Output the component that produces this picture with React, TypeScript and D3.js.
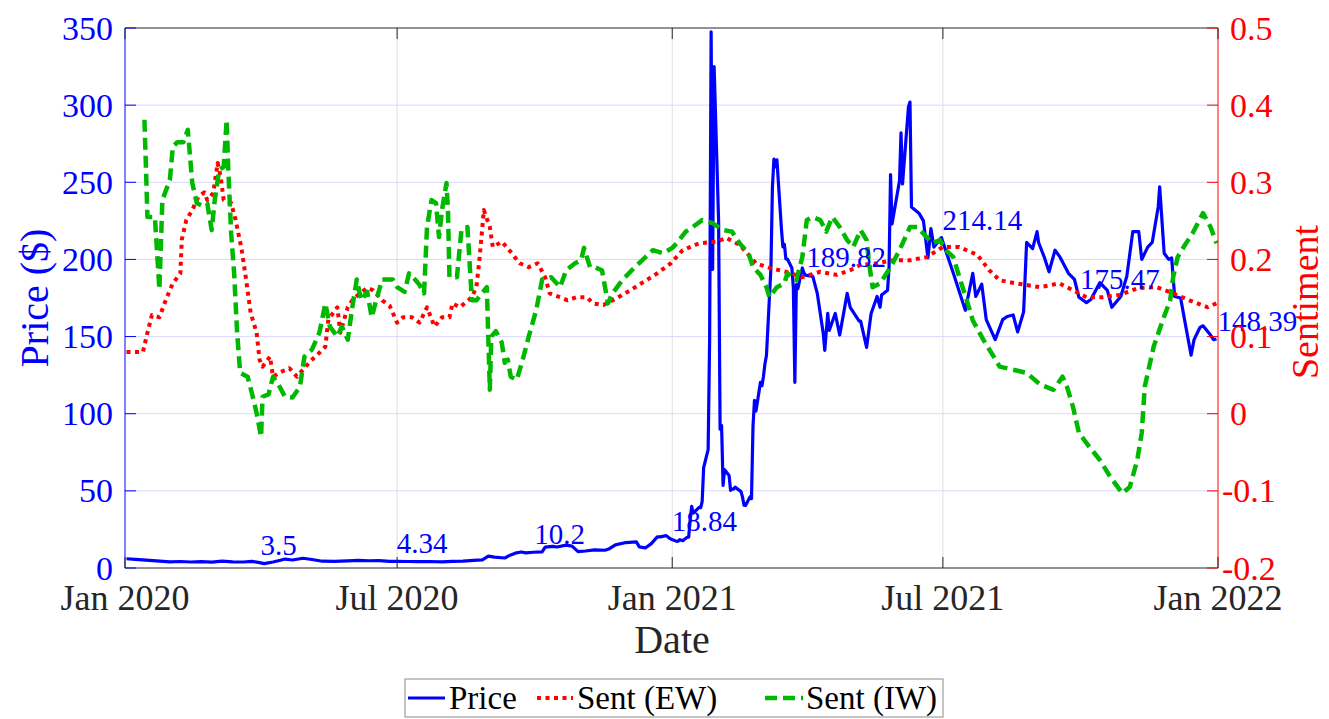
import React from "react";
import * as d3 from "d3";

const priceData: [string, number][] = [
  ["2020-01-02", 6.0], ["2020-01-08", 5.6], ["2020-01-15", 5.1], ["2020-01-22", 4.6], ["2020-01-31", 4.0],
  ["2020-02-07", 4.2], ["2020-02-14", 3.9], ["2020-02-21", 4.1], ["2020-02-28", 3.8], ["2020-03-06", 4.4],
  ["2020-03-13", 4.0], ["2020-03-20", 3.9], ["2020-03-26", 4.3], ["2020-03-31", 3.5], ["2020-04-03", 2.8],
  ["2020-04-09", 3.9], ["2020-04-14", 5.0], ["2020-04-17", 5.8], ["2020-04-22", 5.2], ["2020-04-29", 6.3],
  ["2020-05-05", 5.5], ["2020-05-12", 4.4], ["2020-05-20", 4.3], ["2020-05-29", 4.6], ["2020-06-05", 4.9],
  ["2020-06-12", 4.7], ["2020-06-19", 4.8], ["2020-06-26", 4.3], ["2020-06-30", 4.34], ["2020-07-08", 4.2],
  ["2020-07-15", 4.1], ["2020-07-22", 4.2], ["2020-07-31", 4.0], ["2020-08-07", 4.3], ["2020-08-14", 4.5],
  ["2020-08-21", 5.0], ["2020-08-27", 5.3], ["2020-08-31", 7.65], ["2020-09-04", 7.0], ["2020-09-11", 6.5],
  ["2020-09-15", 8.5], ["2020-09-18", 9.6], ["2020-09-22", 10.4], ["2020-09-25", 9.8], ["2020-09-30", 10.2],
  ["2020-10-06", 10.5], ["2020-10-08", 13.5], ["2020-10-13", 14.0], ["2020-10-16", 13.6], ["2020-10-22", 14.8],
  ["2020-10-26", 14.2], ["2020-10-30", 10.6], ["2020-11-04", 11.0], ["2020-11-10", 11.8], ["2020-11-17", 11.5],
  ["2020-11-20", 12.5], ["2020-11-24", 15.0], ["2020-12-01", 16.5], ["2020-12-08", 16.9], ["2020-12-10", 13.7],
  ["2020-12-14", 13.0], ["2020-12-18", 15.8], ["2020-12-22", 20.2], ["2020-12-24", 20.2], ["2020-12-28", 20.99],
  ["2020-12-30", 19.4], ["2020-12-31", 18.84],
  ["2021-01-04", 17.25], ["2021-01-05", 17.37], ["2021-01-06", 18.36], ["2021-01-07", 18.08], ["2021-01-08", 17.69],
  ["2021-01-11", 19.94], ["2021-01-12", 19.95], ["2021-01-13", 31.4], ["2021-01-14", 39.91], ["2021-01-15", 35.5],
  ["2021-01-19", 39.36], ["2021-01-20", 39.12], ["2021-01-21", 43.03], ["2021-01-22", 65.01], ["2021-01-25", 76.79],
  ["2021-01-26", 147.98], ["2021-01-27", 347.51], ["2021-01-28", 193.6], ["2021-01-29", 325.0], ["2021-02-01", 225.0],
  ["2021-02-02", 90.0], ["2021-02-03", 92.41], ["2021-02-04", 53.5], ["2021-02-05", 63.77], ["2021-02-08", 60.0],
  ["2021-02-09", 50.31], ["2021-02-10", 51.2], ["2021-02-11", 51.1], ["2021-02-12", 52.4], ["2021-02-16", 49.51],
  ["2021-02-17", 45.94], ["2021-02-18", 40.69], ["2021-02-19", 40.59], ["2021-02-22", 46.0], ["2021-02-23", 44.97],
  ["2021-02-24", 91.71], ["2021-02-25", 108.73], ["2021-02-26", 101.74], ["2021-03-01", 120.4], ["2021-03-02", 118.18],
  ["2021-03-03", 124.18], ["2021-03-04", 132.35], ["2021-03-05", 137.74], ["2021-03-08", 194.5], ["2021-03-09", 246.9],
  ["2021-03-10", 265.0], ["2021-03-11", 260.0], ["2021-03-12", 264.5], ["2021-03-15", 220.14], ["2021-03-16", 208.17],
  ["2021-03-17", 209.81], ["2021-03-18", 200.27], ["2021-03-19", 200.27], ["2021-03-22", 194.49], ["2021-03-23", 181.75],
  ["2021-03-24", 120.34], ["2021-03-25", 183.75], ["2021-03-26", 181.0], ["2021-03-29", 194.46], ["2021-03-30", 191.45],
  ["2021-03-31", 189.82],
  ["2021-04-05", 189], ["2021-04-08", 178], ["2021-04-12", 152], ["2021-04-13", 141], ["2021-04-15", 165],
  ["2021-04-16", 154], ["2021-04-20", 165], ["2021-04-23", 151], ["2021-04-28", 178], ["2021-04-30", 169],
  ["2021-05-06", 160], ["2021-05-07", 160], ["2021-05-11", 143], ["2021-05-14", 165], ["2021-05-18", 176],
  ["2021-05-20", 169], ["2021-05-21", 177], ["2021-05-25", 180], ["2021-05-26", 195], ["2021-05-27", 255],
  ["2021-05-28", 223], ["2021-06-02", 251], ["2021-06-03", 282], ["2021-06-04", 249], ["2021-06-08", 299],
  ["2021-06-09", 302], ["2021-06-10", 234], ["2021-06-15", 230], ["2021-06-18", 225], ["2021-06-21", 201],
  ["2021-06-23", 220], ["2021-06-25", 208], ["2021-06-30", 214.14],
  ["2021-07-08", 191], ["2021-07-16", 167], ["2021-07-21", 191], ["2021-07-23", 176], ["2021-07-27", 184],
  ["2021-07-30", 161], ["2021-08-05", 148], ["2021-08-10", 161], ["2021-08-13", 163], ["2021-08-17", 164],
  ["2021-08-20", 153], ["2021-08-24", 166], ["2021-08-26", 211], ["2021-08-30", 207], ["2021-09-02", 218],
  ["2021-09-03", 211], ["2021-09-07", 201], ["2021-09-10", 192], ["2021-09-14", 206], ["2021-09-17", 202],
  ["2021-09-23", 191], ["2021-09-27", 187], ["2021-09-30", 175.47], ["2021-10-05", 172], ["2021-10-08", 174],
  ["2021-10-14", 185], ["2021-10-19", 180], ["2021-10-22", 169], ["2021-10-28", 176], ["2021-11-01", 189],
  ["2021-11-05", 218], ["2021-11-09", 218], ["2021-11-11", 200], ["2021-11-15", 208], ["2021-11-18", 211],
  ["2021-11-22", 234], ["2021-11-23", 247], ["2021-11-26", 204], ["2021-11-29", 200], ["2021-12-01", 201],
  ["2021-12-03", 176], ["2021-12-07", 175], ["2021-12-10", 159], ["2021-12-14", 138], ["2021-12-16", 148],
  ["2021-12-20", 156], ["2021-12-22", 157], ["2021-12-27", 151], ["2021-12-29", 148], ["2021-12-31", 148.39],
];

const sentEW: [string, number][] = [
  ["2020-01-02", 0.08], ["2020-01-13", 0.08], ["2020-01-16", 0.105], ["2020-01-19", 0.128], ["2020-01-24", 0.125],
  ["2020-01-29", 0.151], ["2020-02-02", 0.169], ["2020-02-07", 0.182], ["2020-02-08", 0.226], ["2020-02-11", 0.251],
  ["2020-02-15", 0.264], ["2020-02-19", 0.281], ["2020-02-23", 0.287], ["2020-02-25", 0.277], ["2020-02-29", 0.286],
  ["2020-03-03", 0.325], ["2020-03-05", 0.307], ["2020-03-07", 0.277], ["2020-03-12", 0.273], ["2020-03-15", 0.251],
  ["2020-03-19", 0.213], ["2020-03-22", 0.174], ["2020-03-25", 0.131], ["2020-03-29", 0.105], ["2020-03-31", 0.07],
  ["2020-04-02", 0.061], ["2020-04-07", 0.074], ["2020-04-09", 0.048], ["2020-04-14", 0.054], ["2020-04-20", 0.059],
  ["2020-04-25", 0.048], ["2020-04-29", 0.057], ["2020-05-05", 0.07], ["2020-05-10", 0.079], ["2020-05-14", 0.087],
  ["2020-05-16", 0.122], ["2020-05-22", 0.138], ["2020-05-24", 0.105], ["2020-05-29", 0.138], ["2020-06-01", 0.147],
  ["2020-06-06", 0.156], ["2020-06-11", 0.163], ["2020-06-15", 0.16], ["2020-06-21", 0.147], ["2020-06-26", 0.14],
  ["2020-07-01", 0.118], ["2020-07-05", 0.125], ["2020-07-11", 0.125], ["2020-07-16", 0.118], ["2020-07-21", 0.138],
  ["2020-07-26", 0.113], ["2020-07-31", 0.125], ["2020-08-05", 0.125], ["2020-08-07", 0.143], ["2020-08-12", 0.138],
  ["2020-08-15", 0.143], ["2020-08-20", 0.151], ["2020-08-23", 0.164], ["2020-08-25", 0.199], ["2020-08-27", 0.242],
  ["2020-08-28", 0.264], ["2020-09-01", 0.242], ["2020-09-03", 0.216], ["2020-09-09", 0.223], ["2020-09-14", 0.212],
  ["2020-09-21", 0.195], ["2020-09-27", 0.19], ["2020-10-03", 0.195], ["2020-10-08", 0.177], ["2020-10-11", 0.156],
  ["2020-10-18", 0.151], ["2020-10-23", 0.147], ["2020-10-29", 0.151], ["2020-11-05", 0.151], ["2020-11-09", 0.143],
  ["2020-11-16", 0.141], ["2020-11-25", 0.15], ["2020-12-04", 0.16], ["2020-12-13", 0.171], ["2020-12-22", 0.182],
  ["2020-12-31", 0.195], ["2021-01-08", 0.212], ["2021-01-19", 0.221], ["2021-01-31", 0.223], ["2021-02-06", 0.228],
  ["2021-02-15", 0.219], ["2021-02-26", 0.195], ["2021-03-07", 0.189], ["2021-03-18", 0.184], ["2021-03-29", 0.177],
  ["2021-04-10", 0.184], ["2021-04-21", 0.18], ["2021-04-30", 0.186], ["2021-05-07", 0.193], ["2021-05-18", 0.195],
  ["2021-05-29", 0.199], ["2021-06-09", 0.199], ["2021-06-20", 0.203], ["2021-07-01", 0.216], ["2021-07-12", 0.216],
  ["2021-07-24", 0.206], ["2021-08-01", 0.186], ["2021-08-08", 0.173], ["2021-08-19", 0.169], ["2021-09-04", 0.164],
  ["2021-09-17", 0.169], ["2021-09-26", 0.16], ["2021-10-05", 0.151], ["2021-10-16", 0.151], ["2021-10-27", 0.154],
  ["2021-11-09", 0.163], ["2021-11-21", 0.164], ["2021-12-02", 0.156], ["2021-12-13", 0.147], ["2021-12-25", 0.138],
  ["2021-12-31", 0.143],
];

const sentIW: [string, number][] = [
  ["2020-01-14", 0.381], ["2020-01-15", 0.32], ["2020-01-16", 0.255], ["2020-01-21", 0.255], ["2020-01-24", 0.161],
  ["2020-01-26", 0.277], ["2020-01-31", 0.303], ["2020-02-02", 0.346], ["2020-02-05", 0.352], ["2020-02-09", 0.352],
  ["2020-02-12", 0.368], ["2020-02-15", 0.299], ["2020-02-18", 0.273], ["2020-02-21", 0.27], ["2020-02-25", 0.273],
  ["2020-02-28", 0.238], ["2020-03-01", 0.277], ["2020-03-04", 0.316], ["2020-03-07", 0.32], ["2020-03-09", 0.381],
  ["2020-03-10", 0.32], ["2020-03-12", 0.234], ["2020-03-14", 0.182], ["2020-03-16", 0.105], ["2020-03-18", 0.053],
  ["2020-03-23", 0.048], ["2020-03-27", 0.018], ["2020-03-29", 0.001], ["2020-04-01", -0.03], ["2020-04-02", 0.022],
  ["2020-04-06", 0.025], ["2020-04-09", 0.048], ["2020-04-12", 0.04], ["2020-04-17", 0.022], ["2020-04-22", 0.021],
  ["2020-04-27", 0.035], ["2020-04-30", 0.074], ["2020-05-05", 0.083], ["2020-05-10", 0.105], ["2020-05-14", 0.143],
  ["2020-05-17", 0.113], ["2020-05-22", 0.1], ["2020-05-25", 0.113], ["2020-05-29", 0.096], ["2020-06-01", 0.138],
  ["2020-06-04", 0.174], ["2020-06-07", 0.147], ["2020-06-11", 0.158], ["2020-06-14", 0.125], ["2020-06-17", 0.147],
  ["2020-06-21", 0.174], ["2020-06-28", 0.174], ["2020-07-01", 0.164], ["2020-07-06", 0.158], ["2020-07-09", 0.182],
  ["2020-07-13", 0.174], ["2020-07-16", 0.167], ["2020-07-19", 0.156], ["2020-07-21", 0.242], ["2020-07-24", 0.277],
  ["2020-07-27", 0.273], ["2020-07-29", 0.229], ["2020-07-31", 0.264], ["2020-08-03", 0.299], ["2020-08-04", 0.264],
  ["2020-08-05", 0.177], ["2020-08-10", 0.177], ["2020-08-13", 0.238], ["2020-08-17", 0.242], ["2020-08-20", 0.147],
  ["2020-08-23", 0.147], ["2020-08-30", 0.164], ["2020-09-01", 0.031], ["2020-09-02", 0.1], ["2020-09-05", 0.107],
  ["2020-09-09", 0.092], ["2020-09-11", 0.066], ["2020-09-13", 0.07], ["2020-09-15", 0.048], ["2020-09-19", 0.044],
  ["2020-09-23", 0.07], ["2020-09-27", 0.1], ["2020-10-02", 0.134], ["2020-10-06", 0.174], ["2020-10-12", 0.177],
  ["2020-10-18", 0.164], ["2020-10-22", 0.186], ["2020-10-28", 0.195], ["2020-11-01", 0.199], ["2020-11-03", 0.215],
  ["2020-11-07", 0.19], ["2020-11-10", 0.19], ["2020-11-15", 0.186], ["2020-11-19", 0.143], ["2020-11-22", 0.156],
  ["2020-11-29", 0.174], ["2020-12-05", 0.186], ["2020-12-12", 0.199], ["2020-12-19", 0.212], ["2020-12-26", 0.208],
  ["2021-01-01", 0.215], ["2021-01-04", 0.221], ["2021-01-10", 0.236], ["2021-01-14", 0.241], ["2021-01-21", 0.251],
  ["2021-01-28", 0.247], ["2021-02-04", 0.238], ["2021-02-10", 0.236], ["2021-02-15", 0.221], ["2021-02-21", 0.208],
  ["2021-02-24", 0.19], ["2021-03-01", 0.18], ["2021-03-05", 0.164], ["2021-03-07", 0.151], ["2021-03-12", 0.164],
  ["2021-03-17", 0.169], ["2021-03-19", 0.182], ["2021-03-25", 0.173], ["2021-03-29", 0.203], ["2021-04-01", 0.251],
  ["2021-04-05", 0.255], ["2021-04-10", 0.251], ["2021-04-14", 0.236], ["2021-04-18", 0.255], ["2021-04-23", 0.242],
  ["2021-04-28", 0.225], ["2021-05-02", 0.216], ["2021-05-07", 0.238], ["2021-05-11", 0.225], ["2021-05-13", 0.19],
  ["2021-05-15", 0.164], ["2021-05-20", 0.169], ["2021-05-27", 0.19], ["2021-06-02", 0.212], ["2021-06-09", 0.242],
  ["2021-06-14", 0.242], ["2021-06-20", 0.229], ["2021-06-24", 0.221], ["2021-06-29", 0.225], ["2021-07-03", 0.212],
  ["2021-07-08", 0.203], ["2021-07-12", 0.177], ["2021-07-17", 0.147], ["2021-07-21", 0.121], ["2021-07-28", 0.096],
  ["2021-08-04", 0.074], ["2021-08-08", 0.061], ["2021-08-17", 0.057], ["2021-08-26", 0.053], ["2021-09-04", 0.038],
  ["2021-09-13", 0.031], ["2021-09-19", 0.048], ["2021-09-22", 0.035], ["2021-09-26", 0.009], ["2021-09-30", -0.025],
  ["2021-10-07", -0.043], ["2021-10-14", -0.06], ["2021-10-21", -0.082], ["2021-10-29", -0.103], ["2021-11-03", -0.095],
  ["2021-11-08", -0.06], ["2021-11-11", -0.025], ["2021-11-13", 0.035], ["2021-11-19", 0.087], ["2021-11-25", 0.121],
  ["2021-11-30", 0.147], ["2021-12-02", 0.177], ["2021-12-05", 0.203], ["2021-12-09", 0.216], ["2021-12-15", 0.234],
  ["2021-12-22", 0.26], ["2021-12-27", 0.242], ["2021-12-31", 0.221],
];

const labelDates = ["2020-03-31", "2020-06-30", "2020-09-30", "2020-12-31", "2021-03-31", "2021-06-30", "2021-09-30", "2021-12-31"];
const labelValues = [3.5, 4.34, 10.2, 18.84, 189.82, 214.14, 175.47, 148.39];

const xTickDates = ["2020-01-01", "2020-07-01", "2021-01-01", "2021-07-01", "2022-01-01"];
const xTickLabels = ["Jan 2020", "Jul 2020", "Jan 2021", "Jul 2021", "Jan 2022"];
const priceTicks = [0, 50, 100, 150, 200, 250, 300, 350];
const sentTicks = [-0.2, -0.1, 0, 0.1, 0.2, 0.3, 0.4, 0.5];
const sentTickLabels = ["-0.2", "-0.1", "0", "0.1", "0.2", "0.3", "0.4", "0.5"];

const legendNames = ["Price", "Sent (EW)", "Sent (IW)"];

const BLUE = "#0000ff";
const RED = "#ff0000";
const GREEN = "#00b800";
const DARK = "#262626";
const FONT = "'Liberation Serif', 'Times New Roman', serif";

export default function App() {
  const W = 1329, H = 719;
  const L = 125, R = 1218, T = 28, B = 568;
  const parse = d3.utcParse("%Y-%m-%d");
  const x = d3.scaleUtc().domain([parse("2020-01-01")!, parse("2022-01-01")!]).range([L, R]);
  const yP = d3.scaleLinear().domain([0, 350]).range([B, T]);
  const yS = d3.scaleLinear().domain([-0.2, 0.5]).range([B, T]);

  const lineP = d3.line<[string, number]>().x((d) => x(parse(d[0])!)).y((d) => yP(d[1]));
  const lineS = d3.line<[string, number]>().x((d) => x(parse(d[0])!)).y((d) => yS(d[1]));

  const tickLen = 11;
  const styles = [
    { color: BLUE, width: 3.2, dash: undefined as string | undefined },
    { color: RED, width: 4, dash: "4 4.5" },
    { color: GREEN, width: 4.5, dash: "12 6" },
  ];

  const legX = 405, legY = 679, legW = 538, legH = 38;
  const legItems = [
    { x1: 408, x2: 445, tx: 449 },
    { x1: 537, x2: 573, tx: 577 },
    { x1: 765, x2: 803, tx: 806 },
  ];

  return (
    <svg width={W} height={H} style={{ position: "absolute", left: 0, top: 0, background: "#fff" }} fontFamily={FONT}>
      <rect x={0} y={0} width={W} height={H} fill="#fff" />
      <defs>
        <clipPath id="plotClip">
          <rect x={L} y={T} width={R - L} height={B - T} />
        </clipPath>
      </defs>
      {xTickDates.slice(1, -1).map((d) => (
        <line key={d} x1={x(parse(d)!)} x2={x(parse(d)!)} y1={T} y2={B} stroke="#dfdfdf" strokeWidth={1} />
      ))}
      {priceTicks.slice(1, -1).map((t) => (
        <line key={t} x1={L} x2={R} y1={yP(t)} y2={yP(t)} stroke="#d9d9ff" strokeWidth={1} />
      ))}

      <g clipPath="url(#plotClip)" fill="none" strokeLinejoin="round">
        <path d={lineP(priceData)!} stroke={styles[0].color} strokeWidth={styles[0].width} />
        <path d={lineS(sentEW)!} stroke={styles[1].color} strokeWidth={styles[1].width} strokeDasharray={styles[1].dash} />
        <path d={lineS(sentIW)!} stroke={styles[2].color} strokeWidth={styles[2].width} strokeDasharray={styles[2].dash} />
      </g>

      {labelDates.map((d, i) => (
        <text key={d} x={x(parse(d)!) + 1} y={yP(labelValues[i]) - 8} fill={BLUE} fontSize={29}>
          {String(labelValues[i])}
        </text>
      ))}

      <line x1={L} x2={R} y1={T} y2={T} stroke={DARK} strokeWidth={1} />
      <line x1={L} x2={R} y1={B} y2={B} stroke={DARK} strokeWidth={1} />
      <line x1={L} x2={L} y1={T} y2={B} stroke={BLUE} strokeWidth={1} />
      <line x1={R} x2={R} y1={T} y2={B} stroke={RED} strokeWidth={1} />

      {xTickDates.map((d, i) => {
        const xx = x(parse(d)!);
        return (
          <g key={d}>
            <line x1={xx} x2={xx} y1={B} y2={B - tickLen} stroke={DARK} />
            <line x1={xx} x2={xx} y1={T} y2={T + tickLen} stroke={DARK} />
            <text x={xx} y={610} textAnchor="middle" fontSize={36} fill={DARK}>
              {xTickLabels[i]}
            </text>
          </g>
        );
      })}

      {priceTicks.map((t) => (
        <g key={t}>
          <line x1={L} x2={L + tickLen} y1={yP(t)} y2={yP(t)} stroke={BLUE} />
          <text x={113} y={yP(t)} textAnchor="end" dominantBaseline="central" fontSize={34} fill={BLUE}>
            {String(t)}
          </text>
        </g>
      ))}

      {sentTicks.map((t, i) => (
        <g key={t}>
          <line x1={R} x2={R - tickLen} y1={yS(t)} y2={yS(t)} stroke={RED} />
          <text x={t < 0 ? 1222 : 1230} y={yS(t)} dominantBaseline="central" fontSize={34} fill={RED}>
            {sentTickLabels[i]}
          </text>
        </g>
      ))}

      <text x={672} y={653} textAnchor="middle" fontSize={40} fill={DARK}>Date</text>
      <text transform={`translate(48,${(T + B) / 2}) rotate(-90)`} textAnchor="middle" fontSize={40} fill={BLUE}>
        Price ($)
      </text>
      <text transform={`translate(1318,${(T + B) / 2 + 4}) rotate(-90)`} textAnchor="middle" fontSize={38} fill={RED}>
        Sentiment
      </text>

      <rect x={legX} y={legY} width={legW} height={legH} fill="#fff" stroke="#8a8a8a" strokeWidth={1} />
      {legItems.map((it, i) => (
        <g key={i}>
          <line x1={it.x1} x2={it.x2} y1={legY + legH / 2} y2={legY + legH / 2} stroke={styles[i].color}
            strokeWidth={styles[i].width} strokeDasharray={styles[i].dash} />
          <text x={it.tx} y={legY + 30} fontSize={33} fill="#000">
            {legendNames[i]}
          </text>
        </g>
      ))}
    </svg>
  );
}
